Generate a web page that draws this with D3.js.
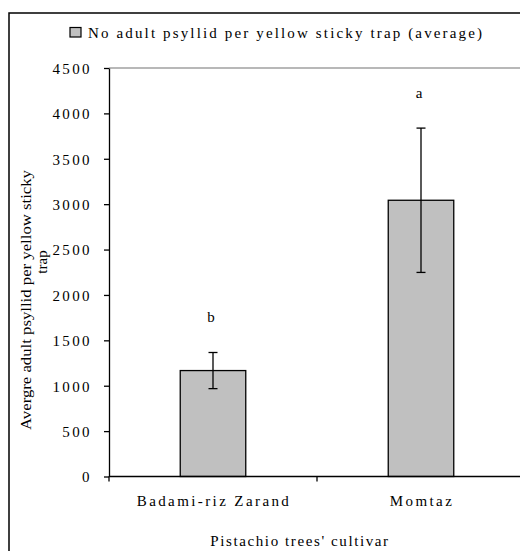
<!DOCTYPE html>
<html>
<head>
<meta charset="utf-8">
<style>
  body { margin: 0; background: #fff; }
  svg { display: block; font-family: "Liberation Serif", "DejaVu Serif", serif; }
  svg text { font-family: "Liberation Serif", "DejaVu Serif", serif !important; fill: #000; }
  .axis path, .axis line { stroke: #000; stroke-width: 1.3px; }
  .axis text { font-size: 15px; letter-spacing: 2.4px; }
</style>
<script src="https://cdn.jsdelivr.net/npm/d3@7"></script>
</head>
<body>
<svg width="520" height="551"></svg>
<script>
// data
var cultivars = ["Badami-riz Zarand", "Momtaz"];
var means = [1167, 3043];
var errors = [199, 795];
var letters = ["b", "a"];
var yTicks = [0, 500, 1000, 1500, 2000, 2500, 3000, 3500, 4000, 4500];
var legendLabel = "No adult psyllid per yellow sticky trap (average)";
var yTitle = ["Avergre adult psyllid per yellow sticky", "trap"];
var xTitle = "Pistachio trees' cultivar";

var svg = d3.select("svg");
var m = { left: 109, top: 68, right: 525, bottom: 476.5 };

// outer chart border (only left and top show in the window)
svg.append("rect")
  .attr("x", 9).attr("y", 13)
  .attr("width", 560).attr("height", 600)
  .attr("fill", "none").attr("stroke", "#000").attr("stroke-width", 1.5);

var x = d3.scaleBand().domain(cultivars).range([m.left, m.right]).paddingInner(0).paddingOuter(0);
var y = d3.scaleLinear().domain([0, 4500]).range([m.bottom, m.top]);

// plot area top edge (grey)
svg.append("line")
  .attr("x1", m.left).attr("x2", m.right)
  .attr("y1", y(4500)).attr("y2", y(4500))
  .attr("stroke", "#a0a0a0").attr("stroke-width", 1.6);

// bars
var barW = x.bandwidth() * 0.315;
svg.selectAll(".bar")
  .data(cultivars)
  .enter().append("rect")
    .attr("class", "bar")
    .attr("x", function(d) { return x(d) + x.bandwidth() / 2 - barW / 2; })
    .attr("y", function(d, i) { return y(means[i]); })
    .attr("width", barW)
    .attr("height", function(d, i) { return y(0) - y(means[i]); })
    .attr("fill", "#c0c0c0")
    .attr("stroke", "#000")
    .attr("stroke-width", 1.3);

// error bars
var eb = svg.selectAll(".err").data(cultivars).enter().append("g").attr("class", "err")
  .attr("stroke", "#000").attr("stroke-width", 1.3);
eb.append("line")
  .attr("x1", function(d) { return x(d) + x.bandwidth() / 2; })
  .attr("x2", function(d) { return x(d) + x.bandwidth() / 2; })
  .attr("y1", function(d, i) { return y(means[i] + errors[i]); })
  .attr("y2", function(d, i) { return y(means[i] - errors[i]); });
[1, -1].forEach(function(s) {
  eb.append("line")
    .attr("x1", function(d) { return x(d) + x.bandwidth() / 2 - 4.5; })
    .attr("x2", function(d) { return x(d) + x.bandwidth() / 2 + 4.5; })
    .attr("y1", function(d, i) { return y(means[i] + s * errors[i]); })
    .attr("y2", function(d, i) { return y(means[i] + s * errors[i]); });
});

// significance letters
svg.selectAll(".letter")
  .data(cultivars)
  .enter().append("text")
    .attr("class", "letter")
    .attr("x", function(d) { return x(d) + x.bandwidth() / 2 - 2; })
    .attr("y", function(d, i) { return y(means[i] + errors[i]) - 30; })
    .attr("text-anchor", "middle")
    .style("font-size", "15px")
    .text(function(d, i) { return letters[i]; });

// y axis
var ya = svg.append("g")
  .attr("class", "axis axis--y")
  .attr("transform", "translate(" + m.left + ",0)")
  .call(d3.axisLeft(y).tickValues(yTicks).tickFormat(d3.format("d"))
    .tickSize(5).tickPadding(12).tickSizeOuter(0));
ya.attr("font-family", null).attr("font-size", null);
ya.selectAll("text").attr("dy", "0.36em");

// x axis: ticks on category boundaries
var xa = svg.append("g")
  .attr("class", "axis axis--x")
  .attr("transform", "translate(0," + m.bottom + ")");
xa.append("line").attr("x1", m.left).attr("x2", m.right).attr("y1", 0).attr("y2", 0);
xa.selectAll(".bound").data(cultivars.concat(["end"])).enter().append("line")
  .attr("x1", function(d, i) { return m.left + i * x.bandwidth(); })
  .attr("x2", function(d, i) { return m.left + i * x.bandwidth(); })
  .attr("y1", 0).attr("y2", 5);
xa.selectAll(".lab").data(cultivars).enter().append("text")
  .attr("x", function(d) { return x(d) + x.bandwidth() / 2 + 1; })
  .attr("y", 29.5)
  .attr("text-anchor", "middle")
  .text(function(d) { return d; });

// axis titles
svg.append("text")
  .attr("transform", "translate(31,300) rotate(-90)")
  .attr("text-anchor", "middle")
  .style("font-size", "15px")
  .attr("textLength", 260).attr("lengthAdjust", "spacingAndGlyphs")
  .text(yTitle[0]);
svg.append("text")
  .attr("transform", "translate(47,262) rotate(-90)")
  .attr("text-anchor", "middle")
  .style("font-size", "15px")
  .text(yTitle[1]);

svg.append("text")
  .attr("x", 300).attr("y", 546)
  .attr("text-anchor", "middle")
  .style("font-size", "15px")
  .style("letter-spacing", "1.6px")
  .text(xTitle);

// legend
svg.append("rect")
  .attr("x", 70).attr("y", 27.5).attr("width", 11).attr("height", 9.5)
  .attr("fill", "#c0c0c0").attr("stroke", "#000").attr("stroke-width", 1.2);
svg.append("text")
  .attr("x", 88).attr("y", 38)
  .style("font-size", "15px")
  .attr("textLength", 394).attr("lengthAdjust", "spacing")
  .text(legendLabel);
</script>
</body>
</html>
